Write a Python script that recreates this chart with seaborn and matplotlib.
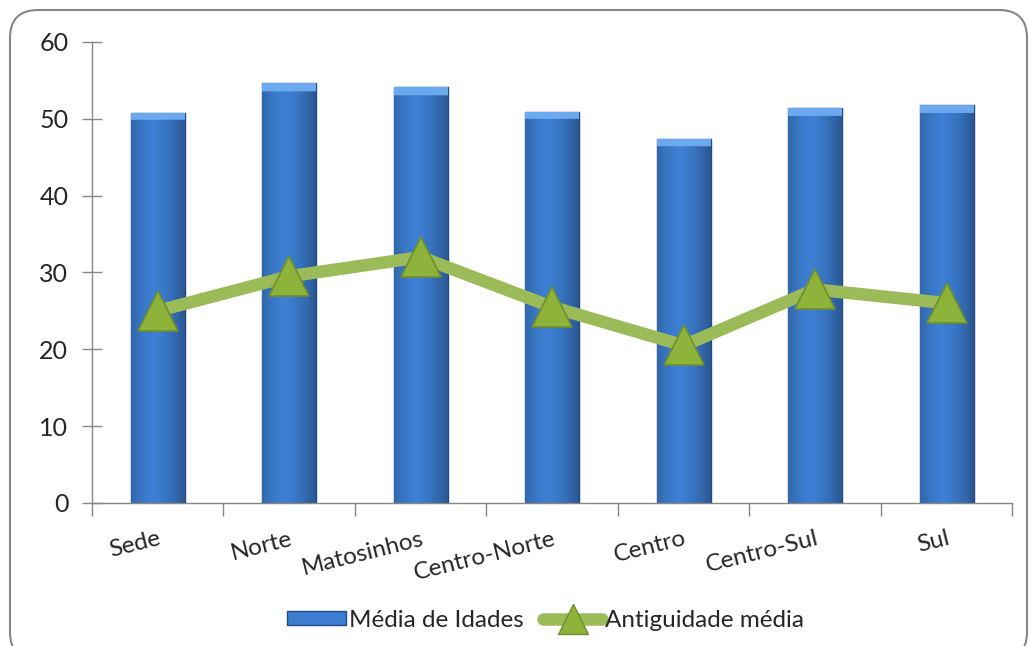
import numpy as np
import pandas as pd
import seaborn as sns
from matplotlib import pyplot as plt
from matplotlib.patches import FancyBboxPatch, Patch
from matplotlib.lines import Line2D
from matplotlib.transforms import IdentityTransform

# data
regioes = ['Sede', 'Norte', 'Matosinhos', 'Centro-Norte', 'Centro', 'Centro-Sul', 'Sul']
media_idades = [50.8, 54.6, 54.1, 50.9, 47.4, 51.4, 51.8]
antiguidade = [25.0, 29.5, 32.0, 25.5, 20.5, 27.8, 26.0]
y_ticks = [0, 10, 20, 30, 40, 50, 60]

df = pd.DataFrame({'regiao': regioes, 'idade': media_idades, 'antig': antiguidade})

sns.set_style('white')
plt.rcParams['font.family'] = ['Lato', 'DejaVu Sans']

fig = plt.figure(figsize=(10.30, 6.46), dpi=100)
ax = fig.add_axes([0.0893, 0.2214, 0.8937, 0.7136])

sns.barplot(data=df, x='regiao', y='idade', color='#3C7DD0', width=0.41,
            edgecolor='#1F4A85', linewidth=1.0, saturation=1, ax=ax, zorder=2)

# gradient fill on each bar, clipped to the bar
prof = np.linspace(0, 1, 64)
shade = 1 - 0.35 * np.abs(prof - 0.42) ** 1.5 * 2
base = np.array([0.24, 0.50, 0.83])
for p in ax.patches:
    x0, y0 = p.get_x(), p.get_y()
    w, h = p.get_width(), p.get_height()
    rows = 400
    img = np.ones((rows, 64, 3)) * base
    img = img * shade[None, :, None]
    bevel = int(rows * 1.1 / h)
    img[-bevel:, :, :] = np.array([0.42, 0.66, 0.93])
    img = np.clip(img, 0, 1)
    im = ax.imshow(img, extent=[x0, x0 + w, y0, y0 + h], origin='lower',
                   aspect='auto', zorder=2.1, interpolation='bilinear')
    im.set_clip_path(p)

ax.plot(range(len(regioes)), antiguidade, color='#9BBB59', linewidth=9,
        solid_joinstyle='miter', zorder=3)
ax.plot(range(len(regioes)), antiguidade, linestyle='none', marker='^',
        markersize=29, markerfacecolor='#8DB33B', markeredgecolor='#6F8F2C',
        markeredgewidth=1.2, zorder=4)

ax.set_xlim(-0.5, len(regioes) - 0.5)
ax.set_ylim(0, 60)
ax.set_yticks(y_ticks)
ax.set_xlabel('')
ax.set_ylabel('')

ax.set_xticks(np.arange(len(regioes) + 1) - 0.5, minor=True)
ax.tick_params(axis='x', which='minor', bottom=True, length=9, width=1,
               color='#868686', direction='out')
ax.tick_params(axis='x', which='major', bottom=False, length=0, pad=18)
ax.tick_params(axis='y', left=True, length=14, width=1, color='#868686',
               direction='inout', labelsize=18, pad=10)
ax.set_xticklabels(regioes, rotation=14, ha='right', rotation_mode='anchor',
                   fontsize=17.5)

for s in ['top', 'right']:
    ax.spines[s].set_visible(False)
for s in ['left', 'bottom']:
    ax.spines[s].set_color('#868686')
    ax.spines[s].set_linewidth(1)

handles = [
    Patch(facecolor='#3C7DD0', edgecolor='#1F4A85', label='Média de Idades'),
    Line2D([], [], color='#9BBB59', linewidth=9, marker='^', markersize=22,
           markerfacecolor='#8DB33B', markeredgecolor='#6F8F2C',
           label='Antiguidade média'),
]
fig.legend(handles=handles, loc='center', bbox_to_anchor=(0.53, 0.04), ncol=2,
           frameon=False, fontsize=17.5, handlelength=2.4, handleheight=0.45,
           handletextpad=0.15, columnspacing=0.8)

# rounded chart-area border
border = FancyBboxPatch((10, -14), 1017, 650, boxstyle='round,pad=0,rounding_size=28',
                        transform=IdentityTransform(), facecolor='none',
                        edgecolor='#868686', linewidth=1.5)
fig.patches.append(border)

fig.savefig('out.png', dpi=100)
